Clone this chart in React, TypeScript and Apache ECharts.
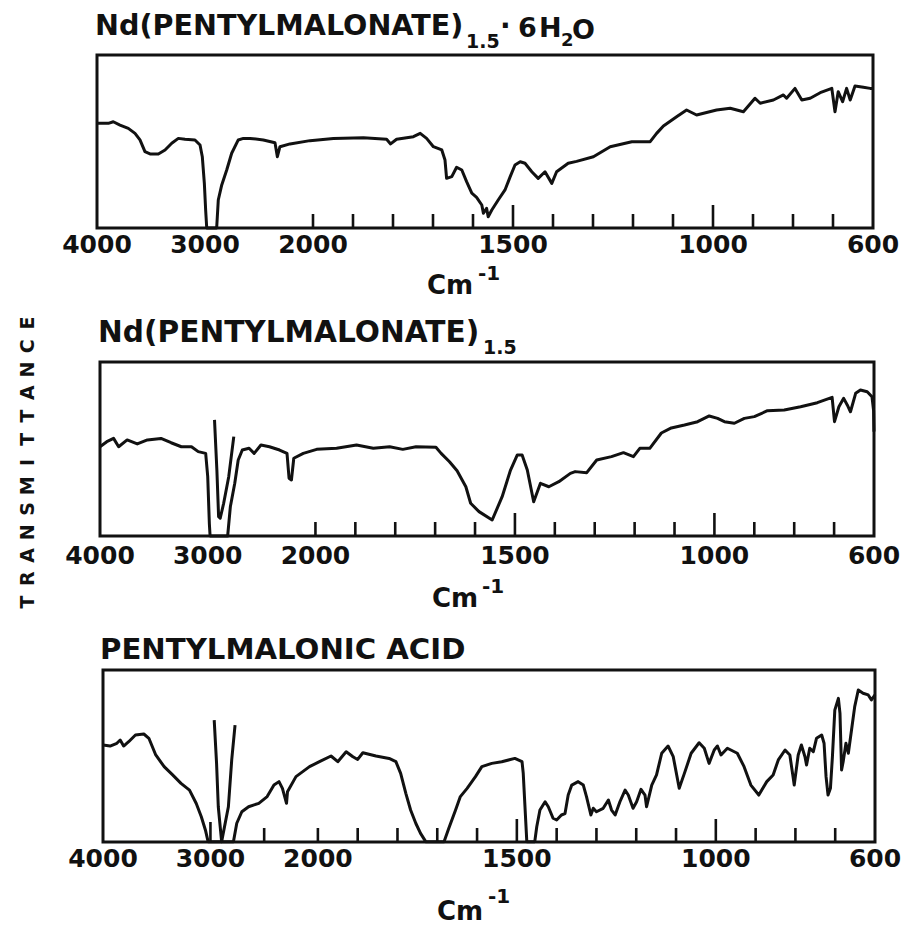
import React, { useEffect, useRef } from 'react';
import * as echarts from 'echarts';

// ---- axis scale: 4000-2000 cm-1 compressed, 2000-600 cm-1 expanded ----
const K = 0.27;
const toU = (w: number) => (w >= 2000 ? (4000 - w) * K : 2000 * K + (2000 - w));
const fromU = (u: number) => (u <= 2000 * K + 1e-9 ? 4000 - u / K : 2000 - (u - 2000 * K));
const U_MAX = toU(600);

const labelWavenumbers = [4000, 3000, 2000, 1500, 1000, 600];
const shortTicks = [2000, 1900, 1800, 1700, 1600, 1400, 1300, 1200, 1100, 900, 800, 700];
const longTicks = [1500, 1000];
const shortTicksP3 = [2500, ...shortTicks];
const midTicksP3 = [3000];

// ---- Panel 1: Nd(pentylmalonate)1.5 . 6H2O ----
const p1Wn = [4000, 3988, 3895, 3849, 3787, 3710, 3648, 3602, 3556, 3509, 3432, 3370, 3308, 3247, 3185, 3093, 3046, 3025, 3006, 2994, 2984, 2892, 2877, 2845, 2799, 2753, 2692, 2645, 2583, 2460, 2352, 2330, 2306, 2213, 2028, 1949, 1874, 1816, 1806, 1791, 1749, 1732, 1716, 1699, 1678, 1670, 1666, 1653, 1641, 1628, 1616, 1603, 1591, 1578, 1574, 1566, 1562, 1553, 1537, 1520, 1507, 1495, 1482, 1470, 1453, 1437, 1420, 1403, 1391, 1362, 1341, 1299, 1257, 1203, 1157, 1141, 1124, 1091, 1066, 1041, 991, 957, 924, 895, 882, 849, 824, 816, 795, 778, 757, 732, 703, 695, 687, 676, 666, 657, 645, 624, 607, 600];
const p1T = [60.5, 60.5, 60.5, 61.4, 59.5, 57.6, 54.7, 50.9, 44.1, 42.8, 42.8, 45.1, 49, 51.8, 51.3, 50.9, 48, 41.2, 25.8, 10.4, 0, 0, 16.2, 24.9, 33.5, 43.2, 50.9, 51.8, 51.8, 50.9, 49.3, 41.2, 47, 48.6, 50.5, 51.8, 52.2, 51.3, 48.6, 51.3, 52.8, 54.7, 51.8, 47, 45.1, 39.3, 28.7, 29.7, 35.1, 33.5, 26.8, 20.1, 17.7, 13.3, 8.5, 11.4, 6.5, 10.4, 16.2, 22, 29.7, 36.4, 38.3, 37.4, 32.5, 28.7, 32.5, 25.8, 32.5, 37.4, 38.5, 41.2, 47, 49.9, 49.9, 54.7, 59, 64.3, 68.2, 65.3, 68.2, 69.2, 67.2, 75, 72.1, 74, 76.9, 75, 80.7, 74, 75, 78.2, 80.7, 67.2, 78.8, 73, 80.7, 74, 82.1, 81.3, 80.7, 80.7];

// ---- Panel 2: Nd(pentylmalonate)1.5 ----
const p2Wn = [4000, 3937, 3874, 3827, 3748, 3654, 3560, 3434, 3340, 3245, 3151, 3088, 3019, 3000, 2985, 2978, 2815, 2790, 2749, 2717, 2679, 2616, 2569, 2506, 2427, 2333, 2264, 2245, 2223, 2201, 2113, 1997, 1947, 1897, 1855, 1814, 1781, 1748, 1698, 1685, 1664, 1645, 1623, 1611, 1590, 1557, 1532, 1511, 1494, 1482, 1469, 1453, 1436, 1415, 1390, 1361, 1349, 1320, 1295, 1258, 1228, 1203, 1187, 1162, 1133, 1108, 1075, 1042, 1013, 992, 975, 950, 925, 900, 867, 825, 784, 742, 705, 699, 688, 676, 667, 659, 646, 634, 617, 605, 601, 600];
const p2T = [51.3, 54.2, 56.1, 51.3, 55.2, 52.9, 55.2, 56.1, 53.6, 51.3, 51.3, 48.5, 47.5, 34.1, 7.3, 0, 0, 16.8, 30.3, 43.7, 49.4, 50.4, 47.5, 52.3, 51.3, 49.4, 47.5, 33.2, 32.2, 44.7, 47.5, 49.8, 50.4, 52.3, 50.4, 51.3, 49.8, 51.3, 51, 47.5, 42.7, 37.5, 28.3, 18.8, 14, 9.2, 22.6, 37.9, 46.6, 46.6, 37.9, 19.7, 30.3, 28.3, 31.2, 36, 37, 36.4, 43.7, 45.6, 47.9, 45.6, 50.4, 50.4, 59.2, 62.1, 63.8, 65.7, 69, 67.6, 65.7, 64.8, 67.6, 68.6, 72, 72.4, 74.3, 76.6, 79.7, 65.7, 74.3, 79.1, 75.3, 71.4, 82, 83.9, 82.9, 80, 72, 60];
// separately recorded C-H band trace
const p2BandWn = [2937, 2915, 2899, 2884, 2852, 2805, 2758];
const p2BandT = [66.7, 37.9, 11.1, 10.2, 18.8, 34.1, 57.1];

// ---- Panel 3: pentylmalonic acid ----
const p3Wn = [4000, 3934, 3871, 3840, 3808, 3761, 3698, 3620, 3573, 3509, 3431, 3352, 3274, 3195, 3132, 3085, 3047, 3022, 2786, 2755, 2708, 2645, 2550, 2472, 2409, 2362, 2330, 2292, 2283, 2204, 2078, 1996, 1967, 1950, 1929, 1912, 1900, 1887, 1854, 1821, 1804, 1792, 1779, 1767, 1754, 1742, 1729, 1683, 1671, 1654, 1642, 1625, 1604, 1588, 1563, 1538, 1505, 1487, 1484, 1475, 1455, 1450, 1442, 1429, 1421, 1409, 1400, 1388, 1379, 1371, 1362, 1346, 1333, 1325, 1314, 1308, 1300, 1283, 1270, 1262, 1253, 1241, 1228, 1220, 1208, 1199, 1188, 1178, 1174, 1161, 1149, 1136, 1120, 1107, 1092, 1079, 1062, 1042, 1029, 1017, 1004, 996, 987, 971, 946, 929, 912, 892, 872, 856, 843, 826, 814, 806, 803, 793, 785, 776, 772, 764, 755, 747, 734, 728, 723, 718, 712, 707, 701, 692, 688, 684, 680, 673, 667, 659, 651, 642, 630, 617, 609, 600];
const p3T = [56.4, 55.8, 57.4, 59.3, 55.8, 58.3, 62.2, 62.8, 60.3, 50.6, 43.8, 39, 34.1, 30.2, 22.4, 14.7, 7, 0.2, 0.2, 10.9, 17.6, 20.5, 22.5, 26.4, 33.1, 35.1, 31.2, 22.5, 29.2, 38, 43.8, 46.7, 50, 46.7, 52.5, 49.6, 48, 51.9, 50, 48.6, 46.7, 39.9, 28.3, 18.6, 10.9, 5, 0.2, 0.2, 8, 18.6, 26.4, 31.2, 38, 43.8, 45.7, 46.7, 48.6, 46.7, 40, 0.2, 0.2, 8.9, 18.6, 23.4, 20.5, 13.8, 12.8, 15.7, 16.5, 27.3, 33.1, 35.1, 33.1, 26.4, 15.7, 19.6, 17.6, 19.6, 24.4, 18.6, 15.7, 23.4, 30.2, 27.3, 19.6, 23.4, 30.6, 27.3, 20.5, 33.1, 39, 51.6, 55.8, 49.6, 31.2, 39.9, 51.6, 57.7, 54.5, 45.7, 53.5, 55.8, 50.6, 54.5, 51.6, 43.8, 33.1, 27.3, 35.1, 39, 47.7, 53.5, 50.6, 38, 33.1, 50.6, 56.4, 49.6, 44.8, 54.5, 52.5, 60.3, 62.2, 57.4, 38, 27.3, 31.2, 49.6, 76.7, 83.5, 74.8, 41.9, 46.7, 57.4, 51.6, 65.1, 78.7, 88.4, 86.5, 85.5, 82.6, 85.5];
const p3BandWn = [2965, 2943, 2927, 2896, 2833, 2802, 2771];
const p3BandT = [70.9, 45.7, 20.5, 0.2, 20.5, 47.7, 68];

const INK = '#111';
const FONT = '"DejaVu Sans"';

const grids = [
  { left: 97, top: 55, width: 776, height: 173 },
  { left: 100, top: 362, width: 774, height: 174 },
  { left: 103, top: 670, width: 772, height: 172 },
];
const labelMargins = [4, 7, 4];
const SHORT = 14;
const MID = 20;
const LONG = 23;

const zip = (w: number[], t: number[]) => w.map((v, i) => [toU(v), t[i]]);

function txt(text: string, x: number, y: number, size: number, align: string = 'left') {
  return {
    type: 'text',
    x,
    y,
    silent: true,
    style: {
      text,
      font: `bold ${size}px ${FONT}`,
      fill: INK,
      align,
      textAlign: align,
      verticalAlign: 'middle',
      textVerticalAlign: 'middle',
    },
  };
}

// inside tick marks drawn through the axis scale
function tickSeries(grid: number, values: number[], len: number) {
  return {
    type: 'custom',
    xAxisIndex: grid,
    yAxisIndex: grid,
    silent: true,
    clip: false,
    z: 4,
    data: values.map((w) => [toU(w), 0]),
    renderItem: (_p: any, api: any) => {
      const pt = api.coord([api.value(0), 0]);
      return {
        type: 'line',
        shape: { x1: pt[0], y1: pt[1], x2: pt[0], y2: pt[1] - len },
        style: { stroke: INK, lineWidth: 2.6 },
      };
    },
  };
}

export default function App() {
  const ref = useRef<HTMLDivElement>(null);
  useEffect(() => {
    if (!ref.current) return;
    const chart = echarts.init(ref.current, undefined, { renderer: 'svg' });

    const xAxis: any[] = [];
    const yAxis: any[] = [];
    grids.forEach((_, i) => {
      xAxis.push({
        gridIndex: i,
        type: 'value',
        min: 0,
        max: U_MAX,
        position: 'bottom',
        axisLine: { show: false, onZero: false },
        splitLine: { show: false },
        axisTick: { show: false },
        axisLabel: {
          show: true,
          customValues: labelWavenumbers.map(toU),
          formatter: (v: number) => String(Math.round(fromU(v))),
          margin: labelMargins[i],
          color: INK,
          fontFamily: FONT,
          fontWeight: 'bold',
          fontSize: 25,
        },
      });
      yAxis.push({ gridIndex: i, type: 'value', min: 0, max: 100, show: false });
    });

    const lineSeries = (data: number[][], grid: number) => ({
      type: 'line',
      xAxisIndex: grid,
      yAxisIndex: grid,
      data,
      showSymbol: false,
      symbol: 'none',
      smooth: false,
      clip: false,
      z: 3,
      lineStyle: { color: INK, width: 3, join: 'round' },
    });

    const letters = 'TRANSMITTANCE'.split('');

    chart.setOption({
      animation: false,
      backgroundColor: '#fff',
      grid: grids.map((g) => ({
        ...g,
        show: true,
        borderColor: INK,
        borderWidth: 3,
        backgroundColor: 'transparent',
        containLabel: false,
      })),
      xAxis,
      yAxis,
      series: [
        lineSeries(zip(p1Wn, p1T), 0),
        lineSeries(zip(p2Wn, p2T), 1),
        lineSeries(zip(p2BandWn, p2BandT), 1),
        lineSeries(zip(p3Wn, p3T), 2),
        lineSeries(zip(p3BandWn, p3BandT), 2),
        tickSeries(0, shortTicks, SHORT),
        tickSeries(0, longTicks, LONG),
        tickSeries(1, shortTicks, SHORT),
        tickSeries(1, longTicks, LONG),
        tickSeries(2, shortTicksP3, SHORT),
        tickSeries(2, midTicksP3, MID),
        tickSeries(2, longTicks, LONG),
      ],
      graphic: [
        // panel 1 title
        txt('Nd(PENTYLMALONATE)', 95, 25, 28.6),
        txt('1.5', 466, 41, 19),
        txt('·', 500, 25, 28),
        txt('6', 518, 27, 27),
        txt('H', 539, 27, 27),
        txt('2', 561, 39, 18),
        txt('O', 572, 29, 27),
        // panel 2 title
        txt('Nd(PENTYLMALONATE)', 98, 332, 29.6),
        txt('1.5', 483, 347, 19),
        // panel 3 title
        txt('PENTYLMALONIC ACID', 100, 649, 29.2),
        // axis unit labels
        txt('Cm', 427, 285, 26),
        txt('-1', 478, 273, 20),
        txt('Cm', 432, 598, 26),
        txt('-1', 482, 586, 20),
        txt('Cm', 437, 911, 26),
        txt('-1', 488, 896, 20),
        // vertical axis title
        {
          type: 'group',
          x: 27,
          y: 602,
          rotation: Math.PI / 2,
          silent: true,
          children: letters.map((ch, i) => txt(ch, i * 23.25, 0, 19, 'center')),
        },
      ],
    });
    return () => chart.dispose();
  }, []);
  return (
    <div
      ref={ref}
      style={{ position: 'absolute', left: 0, top: 0, width: 909, height: 926, background: '#fff' }}
    />
  );
}
